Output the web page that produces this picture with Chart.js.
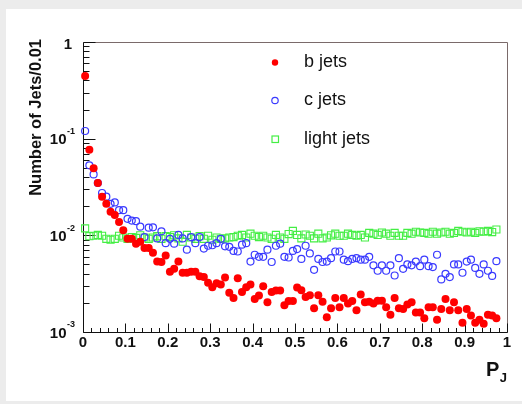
<!DOCTYPE html>
<html>
<head>
<meta charset="utf-8">
<title>P_J distribution</title>
<script src="https://cdn.jsdelivr.net/npm/chart.js@4.4.0/dist/chart.umd.min.js"></script>
<style>
    html, body { margin: 0; padding: 0; background: #ececec; }
    #wrap { width: 522px; height: 404px; }
</style>
</head>
<body>
<div id="wrap"><canvas id="pjChart" width="522" height="404"></canvas></div>
<script>
// Histogram binning: 0.01 wide bins starting at 0
const binWidth = 0.01;

// Number of jets per 0.01 bin, b jets
const bJets = [0.446, 0.077, 0.0493, 0.0348, 0.0251, 0.0212, 0.0175, 0.0162, 0.0137, 0.0113,
    0.0092, 0.0092, 0.0082, 0.0086, 0.0074, 0.0074, 0.0066, 0.00535, 0.0053, 0.0062,
    0.0042, 0.0045, 0.00535, 0.0041, 0.0041, 0.0042, 0.0042, 0.00378, 0.0037, 0.00324,
    0.0029, 0.0032, 0.0031, 0.00366, 0.00254, 0.00225, 0.0036, 0.0026, 0.0029, 0.0031,
    0.0022, 0.00238, 0.00297, 0.00203, 0.0026, 0.00268, 0.00268, 0.00189, 0.00209, 0.00209,
    0.00288, 0.0027, 0.0023, 0.0024, 0.00176, 0.0024, 0.00206, 0.00142, 0.00176, 0.00225,
    0.0018, 0.00225, 0.00197, 0.00209, 0.00168, 0.00245, 0.00203, 0.00206, 0.00197, 0.0021,
    0.0021, 0.0018, 0.00151, 0.00225, 0.00176, 0.00173, 0.00192, 0.00203, 0.00159, 0.00159,
    0.00139, 0.0018, 0.0018, 0.00134, 0.00173, 0.0022, 0.00168, 0.00203, 0.00168, 0.00125,
    0.00173, 0.00148, 0.00125, 0.00134, 0.00122, 0.00151, 0.00148, 0.00139];

// c jets
const cJets = [0.12, 0.053, 0.0427, 0.0348, 0.0274, 0.0251, 0.0212, 0.0219, 0.0182, 0.0182,
    0.0148, 0.0142, 0.014, 0.0123, 0.0096, 0.012, 0.0121, 0.0093, 0.011, 0.0083,
    0.0092, 0.0082, 0.0101, 0.0093, 0.0071, 0.0096, 0.0083, 0.0096, 0.0073, 0.0078,
    0.0079, 0.0083, 0.0092, 0.0077, 0.0076, 0.0069, 0.0068, 0.008, 0.0083, 0.00535,
    0.0063, 0.006, 0.006, 0.0071, 0.0053, 0.0078, 0.0082, 0.006, 0.0059, 0.0069,
    0.0072, 0.0057, 0.0078, 0.0065, 0.0044, 0.0057, 0.0053, 0.00535, 0.0058, 0.0068,
    0.0068, 0.0056, 0.0054, 0.0057, 0.0058, 0.0056, 0.0056, 0.006, 0.0049, 0.0043,
    0.0049, 0.0043, 0.0049, 0.00384, 0.0058, 0.0045, 0.005, 0.0049, 0.00535, 0.0048,
    0.0056, 0.0048, 0.0047, 0.0063, 0.0035, 0.004, 0.0037, 0.005, 0.005, 0.0041,
    0.00535, 0.0056, 0.0046, 0.004, 0.005, 0.0043, 0.0038, 0.0054];

// light (udsg) jets
const lightJets = [0.0118, 0.0098, 0.0099, 0.0101, 0.0099, 0.0092, 0.009, 0.0092, 0.0099, 0.0095,
    0.0092, 0.0096, 0.0094, 0.01, 0.0095, 0.0092, 0.0095, 0.0098, 0.0092, 0.0098,
    0.0096, 0.01, 0.0093, 0.0086, 0.0101, 0.0095, 0.0092, 0.0098, 0.0092, 0.0099,
    0.009, 0.0095, 0.0092, 0.0093, 0.0095, 0.0096, 0.0099, 0.0101, 0.0095, 0.0104,
    0.0099, 0.0096, 0.0099, 0.0095, 0.0092, 0.0101, 0.0095, 0.0092, 0.0103, 0.0111,
    0.0101, 0.0093, 0.0102, 0.0099, 0.0093, 0.0104, 0.0093, 0.0095, 0.01, 0.0104,
    0.0099, 0.0099, 0.0104, 0.0101, 0.0099, 0.0101, 0.0095, 0.0106, 0.0104, 0.0101,
    0.0107, 0.0104, 0.0099, 0.0106, 0.0099, 0.0099, 0.0106, 0.0104, 0.0109, 0.0107,
    0.0106, 0.0104, 0.0109, 0.0104, 0.0107, 0.0109, 0.0104, 0.0106, 0.0111, 0.0109,
    0.0107, 0.0109, 0.0106, 0.011, 0.0109, 0.0111, 0.0108, 0.0115];

// Axis tick labels
const xTickLabels = ['0', '0.1', '0.2', '0.3', '0.4', '0.5', '0.6', '0.7', '0.8', '0.9', '1'];
const yDecades = [0, -1, -2, -3];

const FONT = "'Liberation Sans', Arial, Helvetica, sans-serif";

function toPoints(values) {
    return values.map((v, i) => ({ x: (i + 0.5) * binWidth, y: v }));
}

// ROOT-style frame: inward ticks, superscript decade labels, axis titles
const rootFrame = {
    id: 'rootFrame',
    beforeDraw(chart) {
        const c = chart.ctx;
        c.save();
        c.fillStyle = '#ececec';
        c.fillRect(0, 0, chart.width, chart.height);
        c.fillStyle = '#ffffff';
        c.fillRect(6, 9, chart.width - 6, chart.height - 12);
        c.restore();
    },
    beforeDatasetsDraw(chart) {
        const { ctx: c, chartArea: a, scales: { x, y } } = chart;
        const L = Math.round(a.left) + 0.5, R = Math.round(a.right) + 0.5;
        const T = Math.round(a.top) + 0.5, B = Math.round(a.bottom) + 0.5;
        c.save();
        c.lineWidth = 1;

        // top and right frame
        c.strokeStyle = '#7a6a6a';
        c.beginPath();
        c.moveTo(L, T); c.lineTo(R, T); c.lineTo(R, B);
        c.stroke();

        // axes
        c.strokeStyle = '#111';
        c.beginPath();
        c.moveTo(L, T); c.lineTo(L, B); c.lineTo(R, B);

        // x ticks every 0.02, major every 0.1
        for (let k = 0; k <= 50; k++) {
            const px = Math.round(x.getPixelForValue(k * 0.02)) + 0.5;
            const len = k % 5 === 0 ? 9 : 4.5;
            c.moveTo(px, B); c.lineTo(px, B - len);
        }
        // log y ticks
        yDecades.forEach(e => {
            for (let m = 1; m <= 9; m++) {
                if (e === 0 && m > 1) break;
                const py = Math.round(y.getPixelForValue(m * Math.pow(10, e))) + 0.5;
                const len = m === 1 ? 12 : 6;
                c.moveTo(L, py); c.lineTo(L + len, py);
            }
        });
        c.stroke();

        // x tick labels
        c.fillStyle = '#111';
        c.font = 'bold 15px ' + FONT;
        c.textAlign = 'center';
        c.textBaseline = 'middle';
        xTickLabels.forEach((t, k) => {
            c.fillText(t, x.getPixelForValue(k / 10), B + 10);
        });

        // y tick labels
        yDecades.forEach(e => {
            const py = y.getPixelForValue(Math.pow(10, e));
            c.textAlign = 'right';
            if (e === 0) {
                c.font = 'bold 15px ' + FONT;
                c.fillText('1', 72, py + 3);
                return;
            }
            const sup = String(e);
            c.font = 'bold 9px ' + FONT;
            const sw = c.measureText(sup).width;
            c.fillText(sup, 75, py - 7);
            c.font = 'bold 15px ' + FONT;
            c.fillText('10', 75 - sw - 0.5, py + 1.5);
        });

        // y title
        c.save();
        c.translate(36, 39);
        c.rotate(-Math.PI / 2);
        c.font = 'bold 16.5px ' + FONT;
        c.textAlign = 'right';
        c.fillText('Number of Jets/0.01', 0, 0);
        c.restore();

        // x title P_J
        c.font = 'bold 13px ' + FONT;
        c.textAlign = 'left';
        const jw = c.measureText('J').width;
        c.fillText('J', a.right - jw, 378);
        c.font = 'bold 20px ' + FONT;
        c.textAlign = 'right';
        c.fillText('P', a.right - jw - 0.5, 370);
        c.restore();
    },
    afterDraw(chart) {
        // legend inside the frame
        const c = chart.ctx;
        const rows = [62.5, 100.5, 139];
        c.save();
        chart.data.datasets.forEach((ds, i) => {
            const yy = rows[i];
            c.lineWidth = 1.2;
            c.strokeStyle = ds.borderColor;
            c.fillStyle = ds.backgroundColor;
            if (ds.pointStyle === 'rect') {
                c.strokeRect(272, yy - 3, 6.5, 6.5);
            } else {
                c.beginPath();
                c.arc(275, yy, 3.2, 0, Math.PI * 2);
                if (ds.filled) c.fill(); else c.stroke();
            }
            c.fillStyle = '#111';
            c.font = '18px ' + FONT;
            c.textAlign = 'left';
            c.textBaseline = 'middle';
            c.fillText(ds.label, 304, yy);
        });
        c.restore();
    }
};

const ctx = document.getElementById('pjChart').getContext('2d');
new Chart(ctx, {
    type: 'scatter',
    data: {
        datasets: [{
            label: 'b jets',
            data: toPoints(bJets),
            filled: true,
            pointStyle: 'circle',
            pointRadius: 4,
            borderWidth: 0,
            borderColor: '#ff0000',
            backgroundColor: '#ff0000',
            clip: false
        }, {
            label: 'c jets',
            data: toPoints(cJets),
            pointStyle: 'circle',
            pointRadius: 3.5,
            borderWidth: 1.2,
            borderColor: '#3a3aff',
            backgroundColor: 'rgba(0,0,0,0)',
            clip: false
        }, {
            label: 'light jets',
            data: toPoints(lightJets),
            pointStyle: 'rect',
            pointRadius: 5,
            borderWidth: 1.1,
            borderColor: '#44ee44',
            backgroundColor: 'rgba(0,0,0,0)',
            clip: false
        }]
    },
    options: {
        responsive: false,
        animation: false,
        layout: { padding: { left: 83, top: 42, right: 15, bottom: 72 } },
        plugins: {
            legend: { display: false },
            tooltip: { enabled: false }
        },
        scales: {
            x: { type: 'linear', min: 0, max: 1, display: false },
            y: { type: 'logarithmic', min: 0.001, max: 1, display: false }
        }
    },
    plugins: [rootFrame]
});
</script>
</body>
</html>
